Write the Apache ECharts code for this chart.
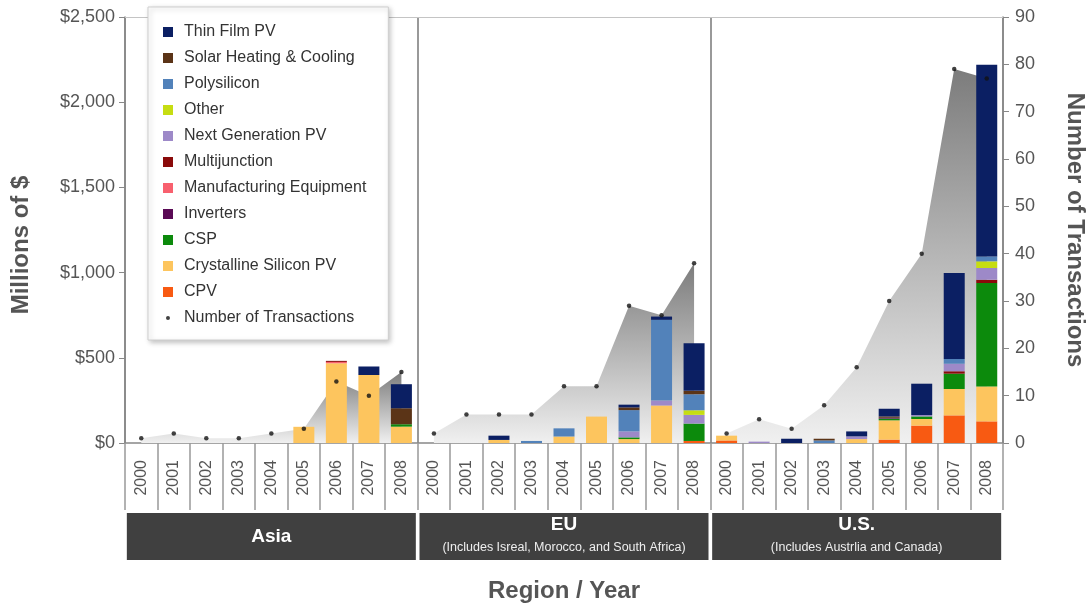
<!DOCTYPE html>
<html><head><meta charset="utf-8">
<script src="https://cdn.jsdelivr.net/npm/echarts@6/dist/echarts.min.js"></script>
<style>html,body{margin:0;padding:0;background:#fff}#c{width:1086px;height:604px}</style>
</head><body><div id="c"></div>
<script>
// ---- data (order: Asia 2000-2008, EU 2000-2008, U.S. 2000-2008) ----
const years = ['2000','2001','2002','2003','2004','2005','2006','2007','2008'];
const regions = ['Asia','EU','U.S.'];
const regionNotes = ['', '(Includes Isreal, Morocco, and South Africa)', '(Includes Austrlia and Canada)'];

const cpv           = [0,0,0,0,0,0,0,0,0,      0,0,0,0,0,0,0,0,12,        15,0,0,0,0,20,102,162,127];
const crystalline   = [0,0,0,0,0,95,468,399,96, 0,0,18,0,38,155,23,220,0,  28,0,0,0,23,113,39,155,205];
const csp           = [0,0,0,0,0,0,0,0,14,     0,0,0,0,0,0,10,0,102,      0,0,0,0,0,10,15,90,607];
const inverters     = [0,0,0,0,0,0,0,0,0,      0,0,0,0,0,0,0,0,0,         0,0,0,0,0,5,0,0,0];
const manufEquip    = [0,0,0,0,0,0,8,0,0,      0,0,0,0,0,0,0,0,0,         0,0,0,0,0,0,0,0,0];
const multijunction = [0,0,0,0,0,0,6,0,0,      0,0,0,0,0,0,0,0,0,         0,0,0,0,0,0,0,14,19];
const nextGen       = [0,0,0,0,0,0,0,0,0,      0,0,0,0,0,0,35,29,51,      0,8,0,0,16,0,8,44,69];
const other         = [0,0,0,0,0,0,0,0,0,      0,0,0,0,0,0,0,0,27,        0,0,0,0,0,0,0,0,39];
const polysilicon   = [0,0,0,0,0,0,0,0,0,      0,0,0,12,48,0,125,474,94,  0,0,0,15,0,0,0,28,29];
const solarHeat     = [0,0,0,0,0,0,0,0,94,     0,0,0,0,0,0,16,0,20,       0,0,0,10,0,8,0,0,0];
const thinFilm      = [0,0,0,0,0,0,0,50,141,   0,0,25,0,0,0,16,19,279,    0,0,25,0,29,45,184,505,1125];
const transactions  = [1,2,1,1,2,3,13,10,15,   2,6,6,6,12,12,29,27,38,    2,5,3,8,16,30,40,79,77];

const leftTicks = {min:0, max:2500, interval:500};
const rightTicks = {min:0, max:90, interval:10};

// ---- build ----
const categories = regions.flatMap(r => years.map(y => r + '|' + y));
const FONT = 'Liberation Sans, Arial, sans-serif';

const barDefs = [
  ['CPV', cpv, '#f85a12'],
  ['Crystalline Silicon PV', crystalline, '#fdc55e'],
  ['CSP', csp, '#0c8a0c'],
  ['Inverters', inverters, '#5a0a55'],
  ['Manufacturing Equipment', manufEquip, '#f8606e'],
  ['Multijunction', multijunction, '#8a0a0a'],
  ['Next Generation PV', nextGen, '#9d89c8'],
  ['Other', other, '#c6dd12'],
  ['Polysilicon', polysilicon, '#5282ba'],
  ['Solar Heating & Cooling', solarHeat, '#5b3417'],
  ['Thin Film PV', thinFilm, '#0b1f63']
];

const series = [];
regions.forEach((r, ri) => {
  series.push({
    type: 'line', xAxisIndex: 0, yAxisIndex: 1, silent: true, z: 1,
    data: transactions.map((v, i) => Math.floor(i / 9) === ri ? v : '-'),
    symbol: 'none', lineStyle: {width: 0},
    areaStyle: {opacity: 1, color: new echarts.graphic.LinearGradient(0, 0, 0, 1, [
      {offset: 0, color: '#7c7c7c'}, {offset: 1, color: '#f0f0f0'}])}
  });
});
barDefs.forEach(([name, data, color]) => {
  series.push({
    name, type: 'bar', stack: 'total', xAxisIndex: 0, yAxisIndex: 0, z: 3,
    barWidth: 21, data, itemStyle: {color}
  });
});
series.push({
  name: 'Number of Transactions', type: 'scatter', xAxisIndex: 0, yAxisIndex: 1, z: 10,
  symbol: 'circle', symbolSize: 4.5, itemStyle: {color: '#111'}, data: transactions
});

const legendNames = barDefs.map(d => d[0]).reverse();
const legendData = legendNames.map(n => ({name: n}));
legendData.push({name: 'Number of Transactions', icon: 'path://M0,0L0.01,0L0,0.01ZM10,10L9.99,10L10,9.99ZM5,3A2,2,0,1,1,4.99,3Z'});

const chart = echarts.init(document.getElementById('c'), null, {renderer: 'canvas'});
chart.setOption({
  animation: false,
  backgroundColor: '#fff',
  textStyle: {fontFamily: FONT},
  grid: {left: 125, right: 83, top: 17, bottom: 161, containLabel: false, outerBoundsMode: 'none'},
  legend: {
    orient: 'vertical', left: 148, top: 7,
    padding: [17, 22, 14, 15],
    itemGap: 10, itemWidth: 10, itemHeight: 10, icon: 'rect',
    backgroundColor: '#fff', borderColor: '#cfcfcf', borderWidth: 1,
    shadowBlur: 5, shadowColor: 'rgba(0,0,0,0.25)', shadowOffsetX: 2, shadowOffsetY: 2,
    textStyle: {fontSize: 16, color: '#333', lineHeight: 16, padding: [0, 0, 0, 6], fontFamily: FONT},
    selectedMode: false,
    data: legendData
  },
  xAxis: [
    {
      type: 'category', data: categories, position: 'bottom',
      axisLine: {show: true, lineStyle: {color: '#888', width: 1.5}},
      axisTick: {show: true, interval: 0, length: 67, lineStyle: {color: '#999', width: 1.5}},
      axisLabel: {interval: 0, rotate: 90, margin: 17, fontSize: 16, color: '#555',
        formatter: v => v.split('|')[1]},
      splitLine: {show: false},
      name: 'Region / Year', nameLocation: 'middle', nameGap: 136,
      nameTextStyle: {fontSize: 24, fontWeight: 'bold', color: '#555'}
    },
    {
      type: 'category', data: regions, position: 'bottom',
      axisLine: {show: false}, axisTick: {show: false}, splitLine: {show: false},
      axisLabel: {
        interval: 0, margin: 70, backgroundColor: '#404040', width: 289, align: 'center',
        color: '#fff',
        formatter: (v, i) => regionNotes[i] ? '{t|' + v + '}\n{s|' + regionNotes[i] + '}' : '{a|' + v + '}',
        rich: {
          a: {fontSize: 19, fontWeight: 'bold', color: '#fff', lineHeight: 47, width: 289, align: 'center'},
          t: {fontSize: 19, fontWeight: 'bold', color: '#fff', lineHeight: 23, width: 289, align: 'center'},
          s: {fontSize: 12.5, color: '#eee', lineHeight: 24, width: 289, align: 'center'}
        }
      }
    },
    {
      type: 'value', min: 0, max: 27, interval: 9, position: 'top',
      axisLine: {show: true, lineStyle: {color: '#c4c4c4', width: 1}},
      axisTick: {show: false}, axisLabel: {show: false},
      splitLine: {show: true, lineStyle: {color: '#777', width: 1.5}}
    }
  ],
  yAxis: [
    {
      type: 'value', position: 'left', ...leftTicks,
      name: 'Millions of $', nameLocation: 'middle', nameGap: 92,
      nameTextStyle: {fontSize: 24, fontWeight: 'bold', color: '#555', padding: [0, 30, 0, 0]},
      axisLine: {show: true, lineStyle: {color: '#888', width: 1.5}},
      axisTick: {show: true, length: 6, lineStyle: {color: '#888'}},
      axisLabel: {fontSize: 18, color: '#555', margin: 10,
        formatter: v => '$' + v.toLocaleString('en-US')},
      splitLine: {show: false}
    },
    {
      type: 'value', position: 'right', ...rightTicks,
      name: 'Number of Transactions', nameLocation: 'middle', nameGap: 60, nameRotate: -90,
      nameTextStyle: {fontSize: 24, fontWeight: 'bold', color: '#555'},
      axisLine: {show: true, lineStyle: {color: '#888', width: 1.5}},
      axisTick: {show: true, length: 6, lineStyle: {color: '#888'}},
      axisLabel: {fontSize: 18, color: '#555', margin: 12},
      splitLine: {show: false}
    }
  ],
  series
});
</script>
</body></html>
